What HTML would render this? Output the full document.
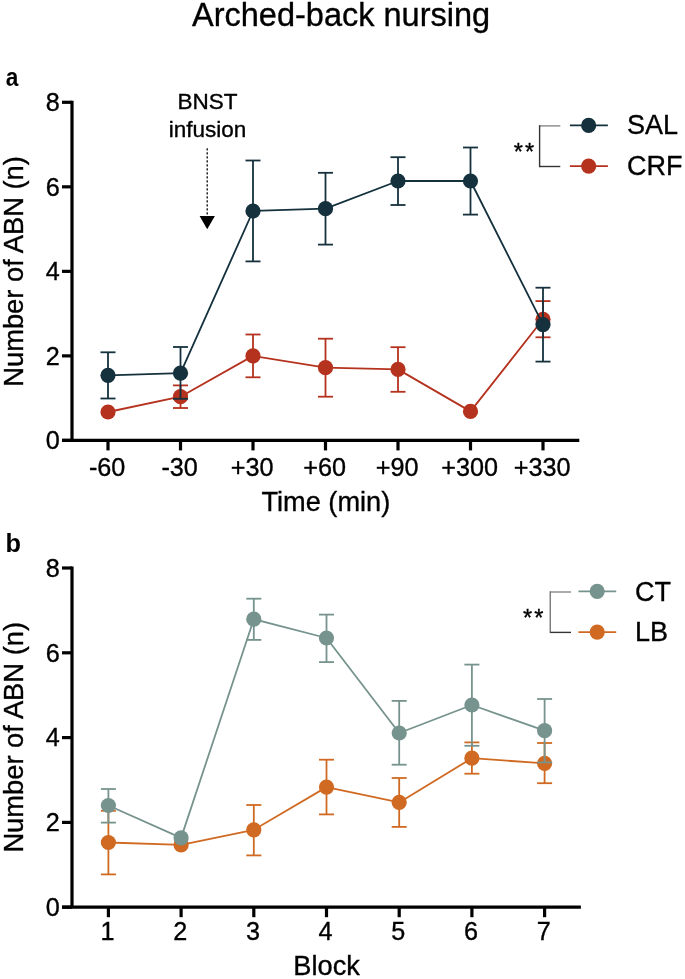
<!DOCTYPE html>
<html><head><meta charset="utf-8"><title>Arched-back nursing</title>
<style>html,body{margin:0;padding:0;background:#fff;overflow:hidden}svg{display:block;will-change:transform}text{fill:#000;stroke:#000;stroke-width:0.35px}</style>
</head><body>
<svg width="685" height="979" viewBox="0 0 685 979" font-family='"Liberation Sans", sans-serif'>
<rect width="685" height="979" fill="#fff"/>
<text x="341.1" y="25.6" text-anchor="middle" font-size="32.5">Arched-back nursing</text>
<text transform="translate(5.8,86) scale(0.87,1)" font-size="26" font-weight="bold" style="stroke:none">a</text>
<text x="5.6" y="551.6" font-size="25.3" font-weight="bold" style="stroke:none">b</text>
<line x1="72" y1="100.7" x2="72" y2="440.4" stroke="#000" stroke-width="3.2"/>
<line x1="62" y1="440.4" x2="579.3" y2="440.4" stroke="#000" stroke-width="3.2"/>
<line x1="62" y1="440.40" x2="72" y2="440.40" stroke="#000" stroke-width="3.2"/>
<text x="59.7" y="449.10" text-anchor="end" font-size="25.2">0</text>
<line x1="62" y1="355.88" x2="72" y2="355.88" stroke="#000" stroke-width="3.2"/>
<text x="59.7" y="364.57" text-anchor="end" font-size="25.2">2</text>
<line x1="62" y1="271.35" x2="72" y2="271.35" stroke="#000" stroke-width="3.2"/>
<text x="59.7" y="280.05" text-anchor="end" font-size="25.2">4</text>
<line x1="62" y1="186.82" x2="72" y2="186.82" stroke="#000" stroke-width="3.2"/>
<text x="59.7" y="195.52" text-anchor="end" font-size="25.2">6</text>
<line x1="62" y1="102.30" x2="72" y2="102.30" stroke="#000" stroke-width="3.2"/>
<text x="59.7" y="111.00" text-anchor="end" font-size="25.2">8</text>
<line x1="108" y1="440.4" x2="108" y2="450.4" stroke="#000" stroke-width="3.2"/>
<text x="107.1" y="475.6" text-anchor="middle" font-size="25.2">-60</text>
<line x1="180.5" y1="440.4" x2="180.5" y2="450.4" stroke="#000" stroke-width="3.2"/>
<text x="179.6" y="475.6" text-anchor="middle" font-size="25.2">-30</text>
<line x1="253" y1="440.4" x2="253" y2="450.4" stroke="#000" stroke-width="3.2"/>
<text x="252.1" y="475.6" text-anchor="middle" font-size="25.2">+30</text>
<line x1="325.5" y1="440.4" x2="325.5" y2="450.4" stroke="#000" stroke-width="3.2"/>
<text x="324.6" y="475.6" text-anchor="middle" font-size="25.2">+60</text>
<line x1="398" y1="440.4" x2="398" y2="450.4" stroke="#000" stroke-width="3.2"/>
<text x="397.1" y="475.6" text-anchor="middle" font-size="25.2">+90</text>
<line x1="470.5" y1="440.4" x2="470.5" y2="450.4" stroke="#000" stroke-width="3.2"/>
<text x="469.6" y="475.6" text-anchor="middle" font-size="25.2">+300</text>
<line x1="543" y1="440.4" x2="543" y2="450.4" stroke="#000" stroke-width="3.2"/>
<text x="542.1" y="475.6" text-anchor="middle" font-size="25.2">+330</text>
<text x="325.85" y="511" text-anchor="middle" font-size="27.2">Time (min)</text>
<text transform="translate(23.3,271.4) rotate(-90)" x="0" y="0" text-anchor="middle" font-size="27.3">Number of ABN (n)</text>
<line x1="180.5" y1="385.4" x2="180.5" y2="408" stroke="#b5321e" stroke-width="1.8"/>
<line x1="173.0" y1="385.4" x2="188.0" y2="385.4" stroke="#b5321e" stroke-width="1.8"/>
<line x1="173.0" y1="408" x2="188.0" y2="408" stroke="#b5321e" stroke-width="1.8"/>
<line x1="253" y1="334.5" x2="253" y2="377.3" stroke="#b5321e" stroke-width="1.8"/>
<line x1="245.5" y1="334.5" x2="260.5" y2="334.5" stroke="#b5321e" stroke-width="1.8"/>
<line x1="245.5" y1="377.3" x2="260.5" y2="377.3" stroke="#b5321e" stroke-width="1.8"/>
<line x1="325.5" y1="338.7" x2="325.5" y2="396.7" stroke="#b5321e" stroke-width="1.8"/>
<line x1="318.0" y1="338.7" x2="333.0" y2="338.7" stroke="#b5321e" stroke-width="1.8"/>
<line x1="318.0" y1="396.7" x2="333.0" y2="396.7" stroke="#b5321e" stroke-width="1.8"/>
<line x1="398" y1="347.2" x2="398" y2="391.8" stroke="#b5321e" stroke-width="1.8"/>
<line x1="390.5" y1="347.2" x2="405.5" y2="347.2" stroke="#b5321e" stroke-width="1.8"/>
<line x1="390.5" y1="391.8" x2="405.5" y2="391.8" stroke="#b5321e" stroke-width="1.8"/>
<line x1="543" y1="301.1" x2="543" y2="337.3" stroke="#b5321e" stroke-width="1.8"/>
<line x1="535.5" y1="301.1" x2="550.5" y2="301.1" stroke="#b5321e" stroke-width="1.8"/>
<line x1="535.5" y1="337.3" x2="550.5" y2="337.3" stroke="#b5321e" stroke-width="1.8"/>
<polyline points="108,412 180.5,396.7 253,355.9 325.5,367.7 398,369.4 470.5,411.4 543,319.3" fill="none" stroke="#b5321e" stroke-width="1.8" stroke-linejoin="round"/>
<circle cx="108" cy="412" r="7.6" fill="#b5321e"/>
<circle cx="180.5" cy="396.7" r="7.6" fill="#b5321e"/>
<circle cx="253" cy="355.9" r="7.6" fill="#b5321e"/>
<circle cx="325.5" cy="367.7" r="7.6" fill="#b5321e"/>
<circle cx="398" cy="369.4" r="7.6" fill="#b5321e"/>
<circle cx="470.5" cy="411.4" r="7.6" fill="#b5321e"/>
<circle cx="543" cy="319.3" r="7.6" fill="#b5321e"/>
<line x1="108" y1="352.3" x2="108" y2="398.5" stroke="#14313d" stroke-width="1.8"/>
<line x1="100.5" y1="352.3" x2="115.5" y2="352.3" stroke="#14313d" stroke-width="1.8"/>
<line x1="100.5" y1="398.5" x2="115.5" y2="398.5" stroke="#14313d" stroke-width="1.8"/>
<line x1="180.5" y1="347" x2="180.5" y2="398.8" stroke="#14313d" stroke-width="1.8"/>
<line x1="173.0" y1="347" x2="188.0" y2="347" stroke="#14313d" stroke-width="1.8"/>
<line x1="173.0" y1="398.8" x2="188.0" y2="398.8" stroke="#14313d" stroke-width="1.8"/>
<line x1="253" y1="160.5" x2="253" y2="261.4" stroke="#14313d" stroke-width="1.8"/>
<line x1="245.5" y1="160.5" x2="260.5" y2="160.5" stroke="#14313d" stroke-width="1.8"/>
<line x1="245.5" y1="261.4" x2="260.5" y2="261.4" stroke="#14313d" stroke-width="1.8"/>
<line x1="325.5" y1="172.8" x2="325.5" y2="244.6" stroke="#14313d" stroke-width="1.8"/>
<line x1="318.0" y1="172.8" x2="333.0" y2="172.8" stroke="#14313d" stroke-width="1.8"/>
<line x1="318.0" y1="244.6" x2="333.0" y2="244.6" stroke="#14313d" stroke-width="1.8"/>
<line x1="398" y1="157.2" x2="398" y2="205" stroke="#14313d" stroke-width="1.8"/>
<line x1="390.5" y1="157.2" x2="405.5" y2="157.2" stroke="#14313d" stroke-width="1.8"/>
<line x1="390.5" y1="205" x2="405.5" y2="205" stroke="#14313d" stroke-width="1.8"/>
<line x1="470.5" y1="147.5" x2="470.5" y2="214.6" stroke="#14313d" stroke-width="1.8"/>
<line x1="463.0" y1="147.5" x2="478.0" y2="147.5" stroke="#14313d" stroke-width="1.8"/>
<line x1="463.0" y1="214.6" x2="478.0" y2="214.6" stroke="#14313d" stroke-width="1.8"/>
<line x1="543" y1="287.7" x2="543" y2="361.6" stroke="#14313d" stroke-width="1.8"/>
<line x1="535.5" y1="287.7" x2="550.5" y2="287.7" stroke="#14313d" stroke-width="1.8"/>
<line x1="535.5" y1="361.6" x2="550.5" y2="361.6" stroke="#14313d" stroke-width="1.8"/>
<polyline points="108,375.3 180.5,373.2 253,211 325.5,208.7 398,181 470.5,181 543,324.6" fill="none" stroke="#14313d" stroke-width="1.8" stroke-linejoin="round"/>
<circle cx="108" cy="375.3" r="7.6" fill="#14313d"/>
<circle cx="180.5" cy="373.2" r="7.6" fill="#14313d"/>
<circle cx="253" cy="211" r="7.6" fill="#14313d"/>
<circle cx="325.5" cy="208.7" r="7.6" fill="#14313d"/>
<circle cx="398" cy="181" r="7.6" fill="#14313d"/>
<circle cx="470.5" cy="181" r="7.6" fill="#14313d"/>
<circle cx="543" cy="324.6" r="7.6" fill="#14313d"/>
<text x="207.5" y="109.3" text-anchor="middle" font-size="22.5">BNST</text>
<text x="207.5" y="136.5" text-anchor="middle" font-size="22.5">infusion</text>
<line x1="207.2" y1="148.2" x2="207.2" y2="216" stroke="#000" stroke-width="1.25" stroke-dasharray="2.4,1.6"/>
<polygon points="199.6,216 214.9,216 207.2,229.2" fill="#000"/>
<line x1="539.6" y1="125.9" x2="560.3" y2="125.9" stroke="#888" stroke-width="1.4"/>
<line x1="539.6" y1="125.2" x2="539.6" y2="167.2" stroke="#333" stroke-width="1.4"/>
<line x1="539.6" y1="166.5" x2="560.3" y2="166.5" stroke="#333" stroke-width="1.4"/>
<text x="513.8" y="159.5" font-size="23.5" letter-spacing="2" stroke="#000" stroke-width="0.4">**</text>
<line x1="569.9" y1="125.4" x2="607.9" y2="125.4" stroke="#14313d" stroke-width="1.8"/>
<circle cx="588.65" cy="125.4" r="7.6" fill="#14313d"/>
<line x1="569.9" y1="166.1" x2="607.9" y2="166.1" stroke="#b5321e" stroke-width="1.8"/>
<circle cx="588.65" cy="166.1" r="7.6" fill="#b5321e"/>
<text x="627" y="134.2" font-size="27">SAL</text>
<text x="627" y="174.85" font-size="27">CRF</text>
<line x1="72" y1="566.4" x2="72" y2="907.2" stroke="#000" stroke-width="3.2"/>
<line x1="62" y1="907.2" x2="580.9" y2="907.2" stroke="#000" stroke-width="3.2"/>
<line x1="62" y1="907.20" x2="72" y2="907.20" stroke="#000" stroke-width="3.2"/>
<text x="59.7" y="915.90" text-anchor="end" font-size="25.2">0</text>
<line x1="62" y1="822.40" x2="72" y2="822.40" stroke="#000" stroke-width="3.2"/>
<text x="59.7" y="831.10" text-anchor="end" font-size="25.2">2</text>
<line x1="62" y1="737.60" x2="72" y2="737.60" stroke="#000" stroke-width="3.2"/>
<text x="59.7" y="746.30" text-anchor="end" font-size="25.2">4</text>
<line x1="62" y1="652.80" x2="72" y2="652.80" stroke="#000" stroke-width="3.2"/>
<text x="59.7" y="661.50" text-anchor="end" font-size="25.2">6</text>
<line x1="62" y1="568.00" x2="72" y2="568.00" stroke="#000" stroke-width="3.2"/>
<text x="59.7" y="576.70" text-anchor="end" font-size="25.2">8</text>
<line x1="108.4" y1="907.2" x2="108.4" y2="917.2" stroke="#000" stroke-width="3.2"/>
<text x="107.5" y="940" text-anchor="middle" font-size="25.2">1</text>
<line x1="181.1" y1="907.2" x2="181.1" y2="917.2" stroke="#000" stroke-width="3.2"/>
<text x="180.2" y="940" text-anchor="middle" font-size="25.2">2</text>
<line x1="253.8" y1="907.2" x2="253.8" y2="917.2" stroke="#000" stroke-width="3.2"/>
<text x="252.9" y="940" text-anchor="middle" font-size="25.2">3</text>
<line x1="326.5" y1="907.2" x2="326.5" y2="917.2" stroke="#000" stroke-width="3.2"/>
<text x="325.6" y="940" text-anchor="middle" font-size="25.2">4</text>
<line x1="399.2" y1="907.2" x2="399.2" y2="917.2" stroke="#000" stroke-width="3.2"/>
<text x="398.3" y="940" text-anchor="middle" font-size="25.2">5</text>
<line x1="471.9" y1="907.2" x2="471.9" y2="917.2" stroke="#000" stroke-width="3.2"/>
<text x="471.0" y="940" text-anchor="middle" font-size="25.2">6</text>
<line x1="544.6" y1="907.2" x2="544.6" y2="917.2" stroke="#000" stroke-width="3.2"/>
<text x="543.7" y="940" text-anchor="middle" font-size="25.2">7</text>
<text x="326.6" y="975.4" text-anchor="middle" font-size="27.2">Block</text>
<text transform="translate(23.3,737.3) rotate(-90)" x="0" y="0" text-anchor="middle" font-size="27.3">Number of ABN (n)</text>
<line x1="108.4" y1="810.8" x2="108.4" y2="874.4" stroke="#d06a22" stroke-width="1.8"/>
<line x1="100.9" y1="810.8" x2="115.9" y2="810.8" stroke="#d06a22" stroke-width="1.8"/>
<line x1="100.9" y1="874.4" x2="115.9" y2="874.4" stroke="#d06a22" stroke-width="1.8"/>
<line x1="253.8" y1="805" x2="253.8" y2="855.4" stroke="#d06a22" stroke-width="1.8"/>
<line x1="246.3" y1="805" x2="261.3" y2="805" stroke="#d06a22" stroke-width="1.8"/>
<line x1="246.3" y1="855.4" x2="261.3" y2="855.4" stroke="#d06a22" stroke-width="1.8"/>
<line x1="326.5" y1="759.7" x2="326.5" y2="814.4" stroke="#d06a22" stroke-width="1.8"/>
<line x1="319.0" y1="759.7" x2="334.0" y2="759.7" stroke="#d06a22" stroke-width="1.8"/>
<line x1="319.0" y1="814.4" x2="334.0" y2="814.4" stroke="#d06a22" stroke-width="1.8"/>
<line x1="399.2" y1="778" x2="399.2" y2="826.9" stroke="#d06a22" stroke-width="1.8"/>
<line x1="391.7" y1="778" x2="406.7" y2="778" stroke="#d06a22" stroke-width="1.8"/>
<line x1="391.7" y1="826.9" x2="406.7" y2="826.9" stroke="#d06a22" stroke-width="1.8"/>
<line x1="471.9" y1="742.4" x2="471.9" y2="773.7" stroke="#d06a22" stroke-width="1.8"/>
<line x1="464.4" y1="742.4" x2="479.4" y2="742.4" stroke="#d06a22" stroke-width="1.8"/>
<line x1="464.4" y1="773.7" x2="479.4" y2="773.7" stroke="#d06a22" stroke-width="1.8"/>
<line x1="544.6" y1="743" x2="544.6" y2="783.2" stroke="#d06a22" stroke-width="1.8"/>
<line x1="537.1" y1="743" x2="552.1" y2="743" stroke="#d06a22" stroke-width="1.8"/>
<line x1="537.1" y1="783.2" x2="552.1" y2="783.2" stroke="#d06a22" stroke-width="1.8"/>
<polyline points="108.4,842.5 181.1,844.9 253.8,829.8 326.5,787.1 399.2,802.4 471.9,758.2 544.6,763.3" fill="none" stroke="#d06a22" stroke-width="1.8" stroke-linejoin="round"/>
<circle cx="108.4" cy="842.5" r="7.6" fill="#d06a22"/>
<circle cx="181.1" cy="844.9" r="7.6" fill="#d06a22"/>
<circle cx="253.8" cy="829.8" r="7.6" fill="#d06a22"/>
<circle cx="326.5" cy="787.1" r="7.6" fill="#d06a22"/>
<circle cx="399.2" cy="802.4" r="7.6" fill="#d06a22"/>
<circle cx="471.9" cy="758.2" r="7.6" fill="#d06a22"/>
<circle cx="544.6" cy="763.3" r="7.6" fill="#d06a22"/>
<line x1="108.4" y1="789" x2="108.4" y2="822.6" stroke="#76938d" stroke-width="1.8"/>
<line x1="100.9" y1="789" x2="115.9" y2="789" stroke="#76938d" stroke-width="1.8"/>
<line x1="100.9" y1="822.6" x2="115.9" y2="822.6" stroke="#76938d" stroke-width="1.8"/>
<line x1="253.8" y1="598.7" x2="253.8" y2="639.9" stroke="#76938d" stroke-width="1.8"/>
<line x1="246.3" y1="598.7" x2="261.3" y2="598.7" stroke="#76938d" stroke-width="1.8"/>
<line x1="246.3" y1="639.9" x2="261.3" y2="639.9" stroke="#76938d" stroke-width="1.8"/>
<line x1="326.5" y1="614.6" x2="326.5" y2="662.1" stroke="#76938d" stroke-width="1.8"/>
<line x1="319.0" y1="614.6" x2="334.0" y2="614.6" stroke="#76938d" stroke-width="1.8"/>
<line x1="319.0" y1="662.1" x2="334.0" y2="662.1" stroke="#76938d" stroke-width="1.8"/>
<line x1="399.2" y1="700.9" x2="399.2" y2="764.7" stroke="#76938d" stroke-width="1.8"/>
<line x1="391.7" y1="700.9" x2="406.7" y2="700.9" stroke="#76938d" stroke-width="1.8"/>
<line x1="391.7" y1="764.7" x2="406.7" y2="764.7" stroke="#76938d" stroke-width="1.8"/>
<line x1="471.9" y1="664.6" x2="471.9" y2="745.8" stroke="#76938d" stroke-width="1.8"/>
<line x1="464.4" y1="664.6" x2="479.4" y2="664.6" stroke="#76938d" stroke-width="1.8"/>
<line x1="464.4" y1="745.8" x2="479.4" y2="745.8" stroke="#76938d" stroke-width="1.8"/>
<line x1="544.6" y1="699" x2="544.6" y2="762.4" stroke="#76938d" stroke-width="1.8"/>
<line x1="537.1" y1="699" x2="552.1" y2="699" stroke="#76938d" stroke-width="1.8"/>
<line x1="537.1" y1="762.4" x2="552.1" y2="762.4" stroke="#76938d" stroke-width="1.8"/>
<polyline points="108.4,805.5 181.1,837.9 253.8,619.2 326.5,638 399.2,733 471.9,705 544.6,730.7" fill="none" stroke="#76938d" stroke-width="1.8" stroke-linejoin="round"/>
<circle cx="108.4" cy="805.5" r="7.6" fill="#76938d"/>
<circle cx="181.1" cy="837.9" r="7.6" fill="#76938d"/>
<circle cx="253.8" cy="619.2" r="7.6" fill="#76938d"/>
<circle cx="326.5" cy="638" r="7.6" fill="#76938d"/>
<circle cx="399.2" cy="733" r="7.6" fill="#76938d"/>
<circle cx="471.9" cy="705" r="7.6" fill="#76938d"/>
<circle cx="544.6" cy="730.7" r="7.6" fill="#76938d"/>
<line x1="550.25" y1="592" x2="571" y2="592" stroke="#888" stroke-width="1.4"/>
<line x1="550.25" y1="591.3" x2="550.25" y2="633.1" stroke="#777" stroke-width="1.4"/>
<line x1="550.25" y1="632.4" x2="571" y2="632.4" stroke="#333" stroke-width="1.4"/>
<text x="523" y="626.1" font-size="23.5" letter-spacing="2" stroke="#000" stroke-width="0.4">**</text>
<line x1="578.4" y1="591.3" x2="616.2" y2="591.3" stroke="#76938d" stroke-width="1.8"/>
<circle cx="597.2" cy="591.3" r="7.6" fill="#76938d"/>
<line x1="578.4" y1="632.1" x2="616.2" y2="632.1" stroke="#d06a22" stroke-width="1.8"/>
<circle cx="597.2" cy="632.1" r="7.6" fill="#d06a22"/>
<text x="635" y="600.5" font-size="27">CT</text>
<text x="635" y="641" font-size="27">LB</text>
</svg>
</body></html>
